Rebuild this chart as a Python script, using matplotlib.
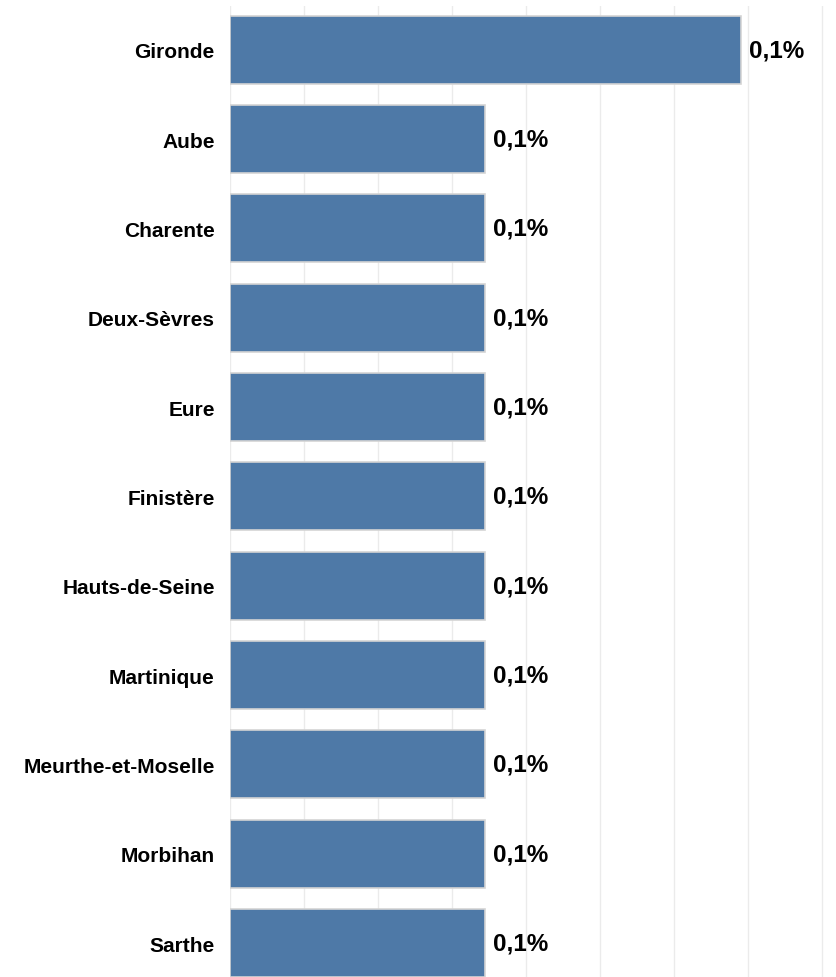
import matplotlib.pyplot as plt
import numpy as np

plt.rcParams['font.family'] = ['Liberation Sans', 'DejaVu Sans']

departements = ['Gironde', 'Aube', 'Charente', 'Deux-Sèvres', 'Eure', 'Finistère',
                'Hauts-de-Seine', 'Martinique', 'Meurthe-et-Moselle', 'Morbihan', 'Sarthe']
parts = [0.138, 0.069, 0.069, 0.069, 0.069, 0.069, 0.069, 0.069, 0.069, 0.069, 0.069]
etiquettes = ['0,1%'] * len(departements)

fig = plt.figure(figsize=(8.37, 9.78), dpi=100)
ax = fig.add_axes([230 / 837, 0, 1 - 230 / 837, 1 - 7 / 978])

y = np.arange(len(departements))
ax.barh(y, parts, height=0.76, color='#4e79a7', edgecolor='#d4d4d4', linewidth=1.2, zorder=2)

for yi, v, txt in zip(y, parts, etiquettes):
    ax.text(v + 0.0021, yi, txt, va='center', ha='left', fontsize=17.5, fontweight='bold', color='black')

ax.set_ylim(len(departements) - 1 + 0.38, -0.49)
ax.set_xlim(0, 0.164)
ax.set_yticks(y)
ax.set_yticklabels(departements, fontsize=15, fontweight='bold')
ax.set_xticks(np.arange(0, 0.17, 0.02))
ax.tick_params(axis='x', length=0, labelbottom=False)
ax.tick_params(axis='y', length=0, pad=11)
ax.grid(axis='x', color='#ebebeb', linewidth=1, zorder=0)
for s in ax.spines.values():
    s.set_visible(False)

fig.savefig('out.png', dpi=100)
